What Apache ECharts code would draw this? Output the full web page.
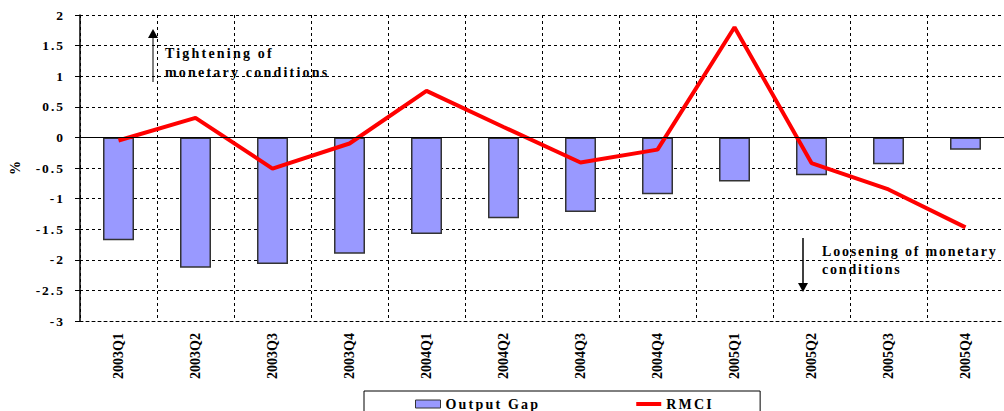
<!DOCTYPE html>
<html>
<head>
<meta charset="utf-8">
<title>Output Gap and RMCI</title>
<script src="https://cdn.jsdelivr.net/npm/echarts@6/dist/echarts.min.js"></script>
<style>
  html, body { margin: 0; padding: 0; background: #fff; }
  #chart { width: 1004px; height: 411px; }
  /* Excel-style spaced lettering: legend and notes, and the y labels a bit less */
  #chart text[style*="Tinos"] { letter-spacing: 2.2px; }
  #chart text[style*="Cousine"] { letter-spacing: 1.8px; }
  #chart text[style*="Georgia"] { letter-spacing: 2px; }
</style>
</head>
<body>
<div id="chart"></div>
<script>
// quarters
const categories = ['2003Q1', '2003Q2', '2003Q3', '2003Q4', '2004Q1', '2004Q2',
  '2004Q3', '2004Q4', '2005Q1', '2005Q2', '2005Q3', '2005Q4']
// output gap, %
const outputGap = [-1.68, -2.13, -2.07, -1.90, -1.58, -1.32, -1.22, -0.93, -0.72, -0.62, -0.44, -0.20]
// real monetary conditions index, %
const rmci = [-0.05, 0.32, -0.51, -0.10, 0.76, 0.17, -0.41, -0.20, 1.80, -0.42, -0.85, -1.47]
const yTicks = [-3, -2.5, -2, -1.5, -1, -0.5, 0, 0.5, 1, 1.5, 2]

// same face everywhere, the fallback name only tags which texts get spaced out
const FONT = '"Liberation Serif", "Times New Roman", serif'
const FONT_SPACED = '"Liberation Serif", Tinos, serif'
const FONT_NOTE_R = '"Liberation Serif", Cousine, serif'
const FONT_YLABEL = '"Liberation Serif", Georgia, serif'

const chart = echarts.init(document.getElementById('chart'), null, { renderer: 'svg' })

const option = {
  animation: false,
  grid: {
    left: 77,
    top: 15,
    width: 934,
    height: 306
  },
  legend: {
    left: 364,
    top: 391,
    padding: [6, 55, 12, 51],
    itemGap: 118,
    borderColor: '#000',
    borderWidth: 1,
    borderRadius: 0,
    itemWidth: 25,
    itemHeight: 8,
    textStyle: {
      fontFamily: FONT_SPACED,
      fontWeight: 'bold',
      fontSize: 14,
      color: '#000'
    },
    data: [
      {
        name: 'Output Gap',
        icon: 'rect',
        itemStyle: { color: '#9999ff', borderColor: '#333', borderWidth: 1 }
      },
      {
        name: 'RMCI',
        icon: 'path://M0,0L0,0M0,2L25,2L25,6L0,6ZM25,8L25,8',
        itemStyle: { color: '#ff0000', borderWidth: 0 }
      }
    ]
  },
  xAxis: {
    type: 'category',
    data: categories,
    boundaryGap: true,
    axisLine: { onZero: false, lineStyle: { color: '#000', type: [3, 3], width: 1 } },
    axisTick: { show: false },
    axisLabel: {
      rotate: 90,
      margin: 12,
      fontFamily: FONT,
      fontWeight: 'bold',
      fontSize: 14,
      color: '#000'
    },
    splitLine: {
      show: true,
      lineStyle: { color: '#000', type: [3, 3], width: 1 }
    }
  },
  yAxis: {
    type: 'value',
    min: yTicks[0],
    max: yTicks[yTicks.length - 1],
    interval: 0.5,
    name: '%',
    nameLocation: 'middle',
    nameRotate: 90,
    nameGap: 58,
    nameTextStyle: {
      fontFamily: FONT,
      fontWeight: 'bold',
      fontSize: 14,
      color: '#000'
    },
    axisLine: { show: true, lineStyle: { color: '#000', width: 1.5 } },
    axisTick: { show: true, inside: false, length: 5, lineStyle: { color: '#000' } },
    axisLabel: {
      margin: 15,
      fontFamily: FONT_YLABEL,
      fontWeight: 'bold',
      fontSize: 13.5,
      color: '#000'
    },
    splitLine: {
      show: true,
      lineStyle: { color: '#000', type: [3, 3], width: 1 }
    }
  },
  series: [
    {
      name: 'Output Gap',
      type: 'bar',
      data: outputGap,
      barWidth: 31,
      itemStyle: {
        color: '#9999ff',
        borderColor: '#333333',
        borderWidth: 1.5
      },
      markLine: {
        silent: true,
        symbol: ['none', 'none'],
        label: { show: false },
        lineStyle: { color: '#000', type: 'solid', width: 1 },
        data: [{ yAxis: 0 }]
      },
      z: 2
    },
    {
      name: 'RMCI',
      type: 'line',
      data: rmci,
      symbol: 'none',
      lineStyle: { color: '#ff0000', width: 4 },
      itemStyle: { color: '#ff0000' },
      z: 3
    }
  ],
  graphic: [
    // tightening arrow + note
    {
      type: 'line',
      shape: { x1: 153, y1: 82, x2: 153, y2: 37 },
      style: { stroke: '#808080', lineWidth: 2 }
    },
    {
      type: 'polygon',
      shape: { points: [[148, 38], [158, 38], [153, 29]] },
      style: { fill: '#000' }
    },
    {
      type: 'text',
      left: 165,
      top: 44,
      style: {
        text: 'Tightening of\nmonetary conditions',
        font: 'bold 14px ' + FONT_SPACED,
        lineHeight: 19,
        fill: '#000'
      }
    },
    // loosening arrow + note
    {
      type: 'line',
      shape: { x1: 803, y1: 238, x2: 803, y2: 284 },
      style: { stroke: '#000', lineWidth: 1.5 }
    },
    {
      type: 'polygon',
      shape: { points: [[798, 283], [808, 283], [803, 292]] },
      style: { fill: '#000' }
    },
    {
      type: 'text',
      left: 822,
      top: 242,
      style: {
        text: 'Loosening of monetary\nconditions',
        font: 'bold 14px ' + FONT_NOTE_R,
        lineHeight: 18,
        fill: '#000'
      }
    }
  ]
}

chart.setOption(option)
window.addEventListener('resize', () => chart.resize())
</script>
</body>
</html>
